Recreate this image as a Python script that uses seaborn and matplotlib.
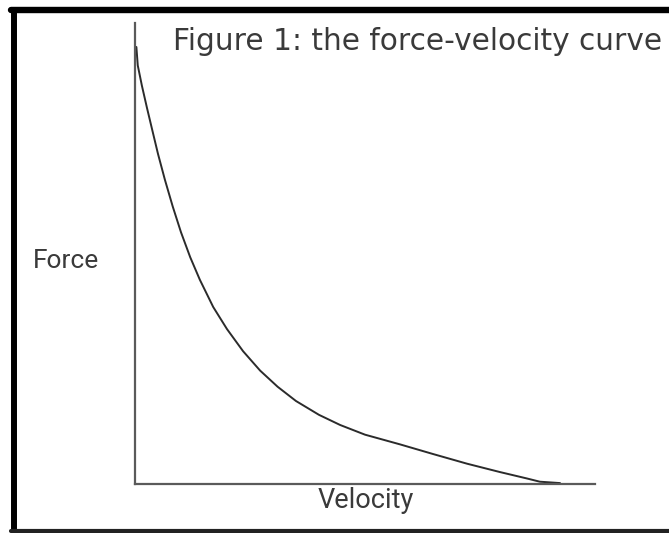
import numpy as np
import pandas as pd
import seaborn as sns
import matplotlib.pyplot as plt
from matplotlib.lines import Line2D

sns.set_style("white")
plt.rcParams['font.family'] = ['Roboto', 'DejaVu Sans']

# points (arbitrary units, axes run 0-100)
velocity = [0.3, 0.6, 1.5, 2.6, 3.7, 5.0, 6.5, 8.2, 10.0, 12.0, 14.1, 17.0,
            20.0, 23.5, 27.2, 31.0, 35.0, 40.0, 44.6, 50.0, 57.6, 64.8,
            72.2, 79.3, 85.2, 88.0, 92.4]
force = [94.8, 90.8, 86.4, 81.6, 77.0, 71.6, 66.0, 60.2, 54.6, 49.2, 44.3, 38.4,
         33.6, 28.8, 24.6, 21.1, 18.0, 15.0, 12.8, 10.7, 8.6, 6.5,
         4.4, 2.6, 1.2, 0.5, 0.2]

title = "Figure 1: the force-velocity curve"
x_label = "Velocity"
y_label = "Force"

df = pd.DataFrame({'velocity': velocity, 'force': force})

W, H = 669, 533
fig = plt.figure(figsize=(W / 100, H / 100), dpi=100)
ax = fig.add_axes([135 / W, 49 / H, 460 / W, 461 / H])

sns.lineplot(data=df, x='velocity', y='force', ax=ax, color='#2b2b2b',
             linewidth=1.4, sort=False)

ax.set_xlim(0, 100)
ax.set_ylim(0, 100)
ax.set_xticks([])
ax.set_yticks([])
ax.set_xlabel('')
ax.set_ylabel('')
for side in ['top', 'right']:
    ax.spines[side].set_visible(False)
for side in ['left', 'bottom']:
    ax.spines[side].set_color('#5a5a5a')
    ax.spines[side].set_linewidth(1.6)

txt_color = '#3a3a3a'
fig.text(173 / W, 1 - 42 / H, title, ha='left', va='center',
         fontsize=21.3, color=txt_color, family=['DejaVu Sans'])
fig.text(66 / W, 1 - 261 / H, y_label, ha='center', va='center',
         fontsize=19, color=txt_color)
fig.text(366 / W, 1 - 500 / H, x_label, ha='center', va='center',
         fontsize=19.5, color=txt_color)

# frame around the whole picture (right edge falls outside the image)
fig.add_artist(Line2D([14 / W, 14 / W], [1 - 10 / H, 1 - 531 / H],
                      transform=fig.transFigure, color='black', linewidth=4.3))
fig.add_artist(Line2D([11 / W, 1.0], [1 - 10 / H, 1 - 10 / H],
                      transform=fig.transFigure, color='black', linewidth=4.6))
fig.add_artist(Line2D([11 / W, 1.0], [1 - 531 / H, 1 - 531 / H],
                      transform=fig.transFigure, color='#222222', linewidth=3.0))

fig.savefig('out.png', dpi=100)
